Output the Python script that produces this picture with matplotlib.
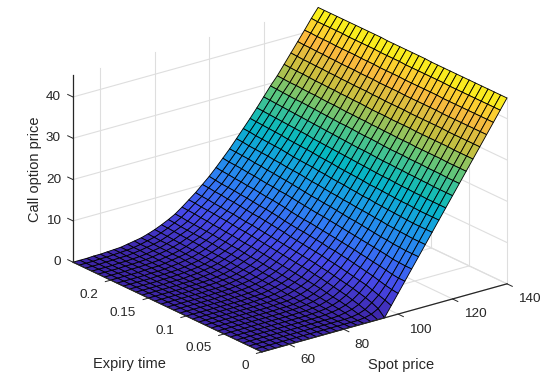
import numpy as np
import matplotlib
matplotlib.use("Agg")
import matplotlib.pyplot as plt
from matplotlib.colors import LinearSegmentedColormap, Normalize
from mpl_toolkits.mplot3d import proj3d

spot_prices = [50, 52.5, 55, 57.5, 60, 62.5, 65, 67.5, 70, 72.5, 75, 77.5, 80, 82.5, 85, 87.5, 90, 92.5, 95,
               97.5, 100, 102.5, 105, 107.5, 110, 112.5, 115, 117.5, 120, 122.5, 125, 127.5, 130, 132.5, 135, 137.5, 140]
expiry_steps = 31
spot_ticks = [60, 80, 100, 120, 140]
expiry_ticks = [0, 0.05, 0.1, 0.15, 0.2]
expiry_tick_labels = ["0", "0.05", "0.1", "0.15", "0.2"]
price_ticks = [0, 10, 20, 30, 40]

# Call price read from the surface: one row per spot price, one column per expiry step (0 to 0.25)
call_price = [
    [0.0] * 31,
    [0.0] * 31,
    [0.0] * 31,
    [0.0] * 28 + [.1, .1, .1],
    [0.0] * 25 + [.1] * 6,
    [0.0] * 20 + [.1] * 8 + [.2] * 3,
    [0.0] * 17 + [.1] * 7 + [.2] * 5 + [.3] * 2,
    [0.0] * 14 + [.1, .1, .1, .1, .1, .1, .1, .2, .2, .2, .2, .3, .3, .3, .4, .4, .4],
    [0.0] * 13 + [.1, .1, .1, .1, .2, .2, .2, .3, .3, .3, .4, .4, .4, .5, .5, .6, .6, .7],
    [0.0] * 10 + [.1, .1, .1, .1, .2, .2, .2, .3, .3, .4, .4, .5, .5, .6, .7, .7, .8, .8, .9, .9, 1.0],
    [0.0] * 7 + [.1, .1, .1, .1, .2, .2, .2, .3, .4, .4, .5, .5, .6, .7, .7, .8, .9, 1.0, 1.0, 1.1, 1.1, 1.2, 1.3, 1.3],
    [0.0] * 6 + [.1, .1, .1, .2, .2, .3, .3, .4, .5, .6, .7, .7, .8, .9, 1.0, 1.0, 1.1, 1.2, 1.3, 1.4, 1.5, 1.6, 1.6, 1.7, 1.8],
    [0.0] * 5 + [.1, .1, .2, .2, .3, .4, .5, .6, .7, .8, .9, 1.0, 1.1, 1.2, 1.3, 1.4, 1.5, 1.6, 1.7, 1.8, 1.9, 2.0, 2.1, 2.2, 2.3, 2.4],
    [0, 0, 0, 0, .1, .2, .3, .4, .5, .6, .7, .9, 1.0, 1.1, 1.2, 1.3, 1.5, 1.6, 1.7, 1.9, 2.0, 2.1, 2.2, 2.3, 2.5, 2.6, 2.7, 2.8, 2.9, 3.0, 3.1],
    [0, 0, 0, .1, .3, .4, .5, .7, .8, 1.0, 1.2, 1.3, 1.5, 1.6, 1.8, 1.9, 2.1, 2.2, 2.4, 2.5, 2.7, 2.8, 2.9, 3.1, 3.2, 3.3, 3.4, 3.5, 3.6, 3.8, 3.9],
    [0, 0, .1, .4, .6, .8, 1.0, 1.2, 1.4, 1.6, 1.8, 2.0, 2.1, 2.3, 2.5, 2.6, 2.8, 3.0, 3.1, 3.3, 3.5, 3.6, 3.8, 3.9, 4.1, 4.2, 4.3, 4.4, 4.5, 4.7, 4.8],
    [0, .2, .4, .8, 1.1, 1.4, 1.6, 1.9, 2.2, 2.4, 2.6, 2.8, 3.0, 3.2, 3.4, 3.6, 3.8, 4.0, 4.2, 4.4, 4.5, 4.7, 4.9, 5.0, 5.2, 5.3, 5.5, 5.6, 5.8, 5.9, 6.0],
    [0, .6, 1.0, 1.5, 1.9, 2.3, 2.6, 2.9, 3.2, 3.5, 3.7, 4.0, 4.2, 4.4, 4.6, 4.8, 5.0, 5.2, 5.4, 5.6, 5.8, 6.0, 6.1, 6.3, 6.5, 6.6, 6.8, 6.9, 7.0, 7.2, 7.3],
    [0, 1.5, 2.2, 2.7, 3.1, 3.5, 3.8, 4.1, 4.4, 4.7, 4.9, 5.2, 5.4, 5.6, 5.8, 6.0, 6.2, 6.4, 6.6, 6.8, 7.0, 7.2, 7.3, 7.5, 7.7, 7.8, 8.0, 8.1, 8.3, 8.4, 8.6],
    [2.5, 3.1, 3.6, 4.1, 4.6, 4.9, 5.2, 5.5, 5.8, 6.1, 6.3, 6.6, 6.8, 7.0, 7.2, 7.4, 7.6, 7.9, 8.1, 8.3, 8.5, 8.7, 8.8, 9.0, 9.2, 9.4, 9.5, 9.7, 9.8, 10.0, 10.1],
    [5.0, 5.2, 5.5, 5.9, 6.3, 6.6, 6.9, 7.2, 7.5, 7.7, 8.0, 8.1, 8.4, 8.6, 8.8, 9.0, 9.1, 9.3, 9.5, 9.8, 10.0, 10.2, 10.3, 10.5, 10.7, 10.8, 11.0, 11.1, 11.2, 11.4, 11.6],
    [7.5, 7.5, 7.7, 8.0, 8.3, 8.5, 8.8, 9.0, 9.3, 9.5, 9.7, 9.9, 10.1, 10.3, 10.5, 10.7, 10.8, 11.0, 11.2, 11.5, 11.7, 11.9, 12.0, 12.2, 12.4, 12.5, 12.7, 12.8, 13.0, 13.1, 13.3],
    [10.0, 10.0, 10.1, 10.2, 10.5, 10.7, 10.9, 11.1, 11.3, 11.5, 11.7, 11.9, 12.1, 12.3, 12.5, 12.6, 12.8, 13.0, 13.2, 13.4, 13.6, 13.7, 13.9, 14.0, 14.2, 14.4, 14.5, 14.7, 14.8, 14.9, 15.1],
    [12.5, 12.5, 12.5, 12.6, 12.7, 12.9, 13.0, 13.2, 13.4, 13.6, 13.8, 13.9, 14.1, 14.3, 14.5, 14.6, 14.8, 14.9, 15.1, 15.3, 15.5, 15.7, 15.8, 16.0, 16.1, 16.3, 16.4, 16.6, 16.7, 16.8, 16.9],
    [15.0, 15.0, 15.0, 15.1, 15.2, 15.3, 15.4, 15.6, 15.7, 15.9, 16.0, 16.1, 16.3, 16.4, 16.6, 16.7, 16.9, 17.1, 17.2, 17.4, 17.6, 17.7, 17.8, 18.0, 18.1, 18.3, 18.4, 18.5, 18.6, 18.8, 18.9],
    [17.5, 17.5, 17.5, 17.5, 17.6, 17.7, 17.8, 17.9, 18.0, 18.1, 18.3, 18.3, 18.5, 18.6, 18.8, 18.9, 19.0, 19.2, 19.3, 19.5, 19.6, 19.7, 19.8, 20.0, 20.2, 20.3, 20.4, 20.5, 20.6, 20.8, 20.9],
    [20.0, 20.0, 20.0, 20.0, 20.1, 20.2, 20.2, 20.3, 20.4, 20.5, 20.6, 20.6, 20.8, 20.9, 21.0, 21.1, 21.2, 21.4, 21.5, 21.6, 21.8, 21.9, 22.0, 22.1, 22.2, 22.4, 22.5, 22.6, 22.7, 22.8, 22.9],
    [22.5, 22.5, 22.5, 22.5, 22.6, 22.6, 22.7, 22.7, 22.8, 22.9, 22.9, 23.0, 23.1, 23.2, 23.3, 23.4, 23.5, 23.6, 23.7, 23.8, 23.9, 24.0, 24.2, 24.3, 24.4, 24.5, 24.6, 24.7, 24.8, 24.9, 25.0],
    [25.0, 25.0, 25.0, 25.0, 25.1, 25.1, 25.2, 25.2, 25.3, 25.3, 25.4, 25.4, 25.5, 25.6, 25.7, 25.7, 25.8, 25.9, 26.0, 26.1, 26.2, 26.3, 26.4, 26.5, 26.6, 26.7, 26.8, 26.9, 27.0, 27.1, 27.2],
    [27.5, 27.5, 27.5, 27.6, 27.6, 27.6, 27.7, 27.7, 27.7, 27.8, 27.8, 27.8, 27.9, 28.0, 28.1, 28.1, 28.2, 28.3, 28.4, 28.4, 28.5, 28.6, 28.7, 28.8, 28.9, 29.0, 29.0, 29.1, 29.2, 29.3, 29.4],
    [30.0, 30.0, 30.0, 30.0, 30.1, 30.1, 30.1, 30.1, 30.1, 30.2, 30.2, 30.2, 30.3, 30.3, 30.4, 30.4, 30.5, 30.5, 30.6, 30.6, 30.7, 30.8, 30.8, 30.9, 31.0, 31.0, 31.1, 31.2, 31.2, 31.3, 31.4],
    [32.5, 32.5, 32.5, 32.5, 32.6, 32.6, 32.6, 32.6, 32.6, 32.6, 32.7, 32.7, 32.7, 32.7, 32.8, 32.8, 32.8, 32.9, 33.0, 33.0, 33.1, 33.1, 33.2, 33.2, 33.3, 33.3, 33.4, 33.5, 33.5, 33.6, 33.7],
    [35.0, 35.0, 35.0, 35.0, 35.0, 35.0, 35.1, 35.1, 35.1, 35.1, 35.1, 35.1, 35.2, 35.2, 35.2, 35.2, 35.3, 35.3, 35.4, 35.4, 35.4, 35.5, 35.5, 35.6, 35.6, 35.7, 35.7, 35.8, 35.8, 35.9, 36.0],
    [37.5, 37.5, 37.5, 37.5, 37.5, 37.5, 37.5, 37.5, 37.6, 37.6, 37.6, 37.6, 37.6, 37.6, 37.7, 37.7, 37.7, 37.7, 37.8, 37.8, 37.8, 37.9, 37.9, 37.9, 38.0, 38.0, 38.1, 38.1, 38.2, 38.2, 38.3],
    [40.0, 40.0, 40.0, 40.0, 40.0, 40.0, 40.0, 40.0, 40.0, 40.1, 40.1, 40.1, 40.1, 40.1, 40.1, 40.2, 40.2, 40.2, 40.2, 40.3, 40.3, 40.3, 40.4, 40.4, 40.4, 40.4, 40.5, 40.5, 40.5, 40.6, 40.6],
    [42.5, 42.5, 42.5, 42.5, 42.5, 42.5, 42.5, 42.5, 42.5, 42.6, 42.6, 42.6, 42.6, 42.6, 42.6, 42.6, 42.7, 42.7, 42.7, 42.7, 42.8, 42.8, 42.8, 42.8, 42.8, 42.9, 42.9, 42.9, 42.9, 42.9, 43.0],
    [45.0, 45.0, 45.0, 45.0, 45.0, 45.0, 45.0, 45.0, 45.0, 45.0, 45.0, 45.0, 45.0, 45.1, 45.1, 45.1, 45.1, 45.1, 45.1, 45.1, 45.2, 45.2, 45.2, 45.2, 45.2, 45.2, 45.2, 45.2, 45.2, 45.2, 45.2],
]

parula_colors = [(0.0, (.242, .150, .660)), (.125, (.279, .290, .925)), (.25, (.190, .480, .960)),
                 (.375, (.100, .610, .900)), (.5, (.020, .720, .760)), (.625, (.350, .780, .500)),
                 (.75, (.780, .750, .250)), (.875, (.990, .730, .240)), (1.0, (.977, .984, .080))]
cmap = LinearSegmentedColormap.from_list("parula_like", parula_colors)

S_MIN, S_MAX = 50, 140
T_MIN, T_MAX = 0.0, 0.25
Z_MIN, Z_MAX = 0.0, 45.3
W, H = 560, 373
GRID = (0.87, 0.87, 0.87)
AXC = (0.15, 0.15, 0.15)
FONT = "Liberation Sans"

fig = plt.figure(figsize=(W / 100, H / 100), dpi=100, facecolor="white")
ax = fig.add_axes([0, 0, 1, 1], projection="3d", computed_zorder=False)
ax.set_proj_type("ortho")
ax.view_init(elev=21.3, azim=232.6)
ax.set_xlim(S_MIN, S_MAX)
ax.set_ylim(T_MIN, T_MAX)
ax.set_zlim(Z_MIN, Z_MAX)
ax.set_box_aspect((308.6, 311.0, (Z_MAX - Z_MIN) * 4.433))
ax.set_axis_off()


def to_px(x, y, z):
    ax.M = ax.get_proj()
    X, Y, _ = proj3d.proj_transform(x, y, z, ax.M)
    dx, dy = ax.transData.transform((X, Y))
    return dx, H - dy


def place(l, b, w):
    ax.set_position([l / W, b / H, w / W, w / H])
    ax.apply_aspect()


# Fit the projected floor to the reference's corner positions
place(0, 0, 400.0)
a = np.array(to_px(S_MIN, T_MAX, 0.0))
b = np.array(to_px(S_MAX, T_MIN, 0.0))
size = 400.0 * (507 - 73) / (b[0] - a[0])
place(0, 0, size)
a = np.array(to_px(S_MIN, T_MAX, 0.0))
b = np.array(to_px(S_MAX, T_MIN, 0.0))
place(73 - a[0] + (507 - b[0] - (73 - a[0])) / 2, -(((262 + 284) / 2) - (a[1] + b[1]) / 2), size)

# Grid on the floor and the two back walls
for s in spot_ticks:
    ax.plot([s, s], [T_MIN, T_MAX], [0, 0], color=GRID, lw=0.8, zorder=1)
    ax.plot([s, s], [T_MAX, T_MAX], [Z_MIN, Z_MAX], color=GRID, lw=0.8, zorder=1)
for t in expiry_ticks:
    ax.plot([S_MIN, S_MAX], [t, t], [0, 0], color=GRID, lw=0.8, zorder=1)
    ax.plot([S_MAX, S_MAX], [t, t], [Z_MIN, Z_MAX], color=GRID, lw=0.8, zorder=1)
for z in price_ticks:
    ax.plot([S_MIN, S_MAX], [T_MAX, T_MAX], [z, z], color=GRID, lw=0.8, zorder=1)
    ax.plot([S_MAX, S_MAX], [T_MIN, T_MAX], [z, z], color=GRID, lw=0.8, zorder=1)

# Surface
expiry_times = np.linspace(T_MIN, T_MAX, expiry_steps)
SS, TT = np.meshgrid(np.array(spot_prices, float), expiry_times, indexing="ij")
ZZ = np.array(call_price, float)
ax.plot_surface(SS, TT, ZZ, rcount=len(spot_prices), ccount=expiry_steps, cmap=cmap,
                norm=Normalize(Z_MIN, Z_MAX), edgecolor=(0.0, 0.0, 0.0), linewidth=0.62,
                shade=False, antialiased=True, zorder=2)

# Axis lines and ticks
ax.plot([S_MIN, S_MAX], [T_MIN, T_MIN], [0, 0], color=AXC, lw=0.9, zorder=3)
ax.plot([S_MIN, S_MIN], [T_MIN, T_MAX], [0, 0], color=AXC, lw=0.9, zorder=3)
ax.plot([S_MIN, S_MIN], [T_MAX, T_MAX], [Z_MIN, Z_MAX], color=AXC, lw=0.9, zorder=3)
for s in spot_ticks:
    ax.plot([s, s], [T_MIN, T_MIN - 0.007], [0, 0], color=AXC, lw=0.7, zorder=3)
for t in expiry_ticks:
    ax.plot([S_MIN, S_MIN - 2.0], [t, t], [0, 0], color=AXC, lw=0.7, zorder=3)
for z in price_ticks:
    ax.plot([S_MIN, S_MIN], [T_MAX, T_MAX + 0.007], [z, z], color=AXC, lw=0.7, zorder=3)

TICK_FS = 9.7
LABEL_FS = 10.5


def label(px, py, s, ha="center", va="center", size=TICK_FS, rot=0):
    fig.text(px / W, 1 - py / H, s, ha=ha, va=va, fontsize=size, family=FONT, color=AXC, rotation=rot)


for s in spot_ticks:
    px, py = to_px(s, T_MIN, 0)
    label(px + 11, py + 15.5, str(s), ha="left")
for t, lab in zip(expiry_ticks, expiry_tick_labels):
    px, py = to_px(S_MIN, t, 0)
    label(px - 12.5, py + 14.5, lab, ha="right")
for z in price_ticks:
    px, py = to_px(S_MIN, T_MAX, z)
    label(px - 12, py, str(z), ha="right")

label(129, 364, "Expiry time", size=LABEL_FS)
label(401, 365.5, "Spot price", size=LABEL_FS)
label(35, 169, "Call option price", size=LABEL_FS, rot=90)

fig.savefig("out.png", dpi=100, facecolor="white")
